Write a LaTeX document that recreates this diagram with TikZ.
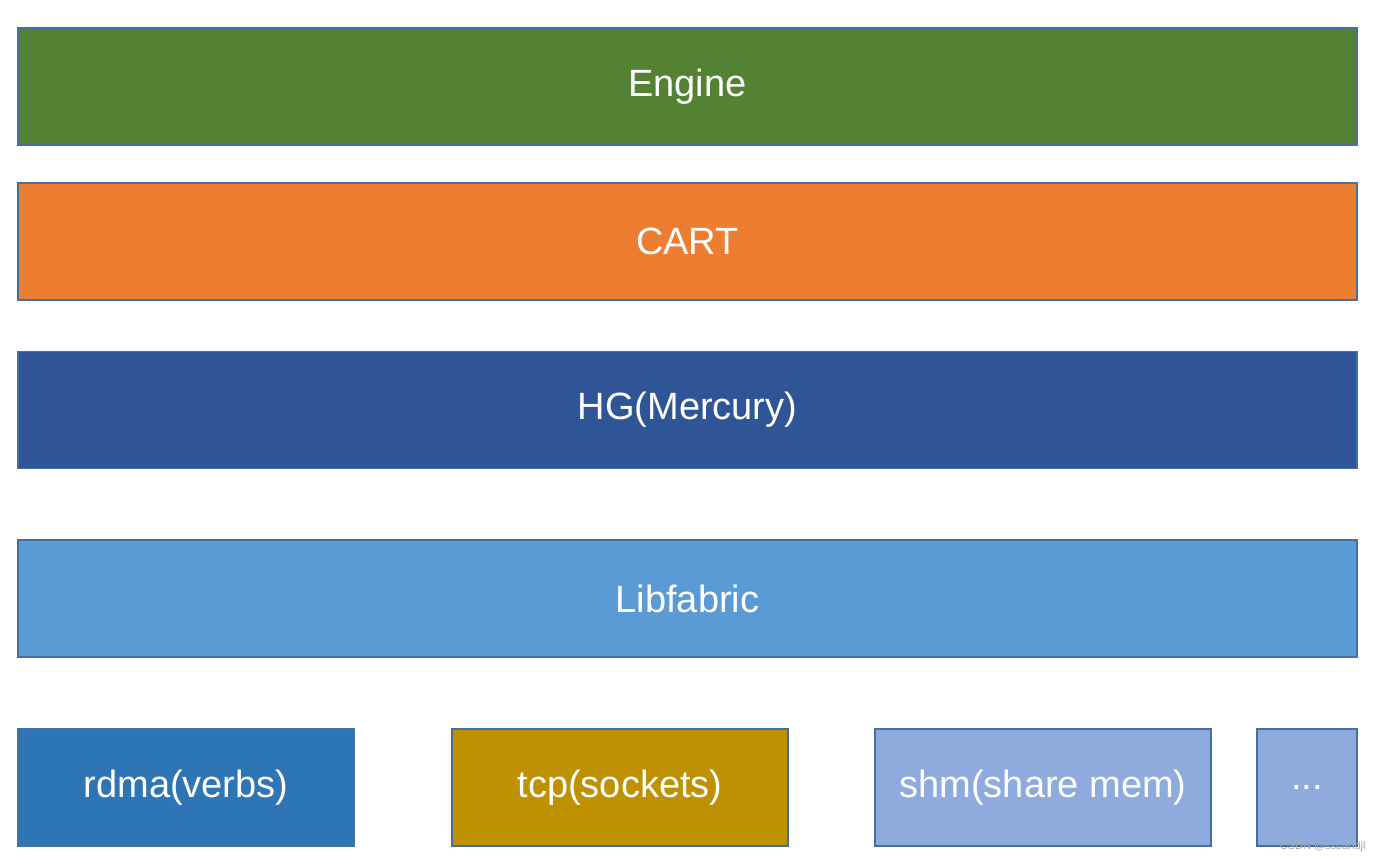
\documentclass[tikz,border=0pt]{standalone}
\usepackage{fontspec}
\setmainfont{Liberation Sans}
\usetikzlibrary{positioning}
\definecolor{engineg}{HTML}{548235}
\definecolor{cartor}{HTML}{ED7D31}
\definecolor{hgblue}{HTML}{2F5597}
\definecolor{fabblue}{HTML}{5B9BD5}
\definecolor{rdmablue}{HTML}{2E75B6}
\definecolor{tcpgold}{HTML}{BF9000}
\definecolor{shmblue}{HTML}{8FAADC}
\definecolor{edge}{HTML}{41719C}
\begin{document}
\begin{tikzpicture}[x=0.5pt,y=-0.5pt,
  layer/.style={draw=edge,line width=0.6pt,text=white,font=\fontsize{19}{22}\selectfont,
    minimum width=669.5pt,minimum height=58.5pt,inner sep=0pt},
  plugin/.style={layer,minimum width=168pt}]
\useasboundingbox (0,0) rectangle (1380,864);
\node [layer,fill=engineg] (engine) at (687.5,86.5) {Engine};
\node [layer,fill=cartor] (cart) at (687.5,241.5) {CART};
\node [layer,fill=hgblue] (hg) at (687.5,410) {HG(Mercury)};
\node [layer,fill=fabblue] (fabric) at (687.5,598.5) {Libfabric};
\node [plugin,fill=rdmablue] (rdma) at (186,787.5) {rdma(verbs)};
\node [plugin,fill=tcpgold] (tcp) at (620,787.5) {tcp(sockets)};
\node [plugin,fill=shmblue] (shm) at (1043,787.5) {shm(share mem)};
\node [plugin,fill=shmblue,minimum width=50pt] (more) at (1307,787.5) {...};
\node [anchor=south east,text=gray!70,font=\fontsize{5.5}{6}\selectfont,inner sep=0pt] (mark) at (1366,852) {CSDN @ssbandjl};
\end{tikzpicture}
\end{document}
